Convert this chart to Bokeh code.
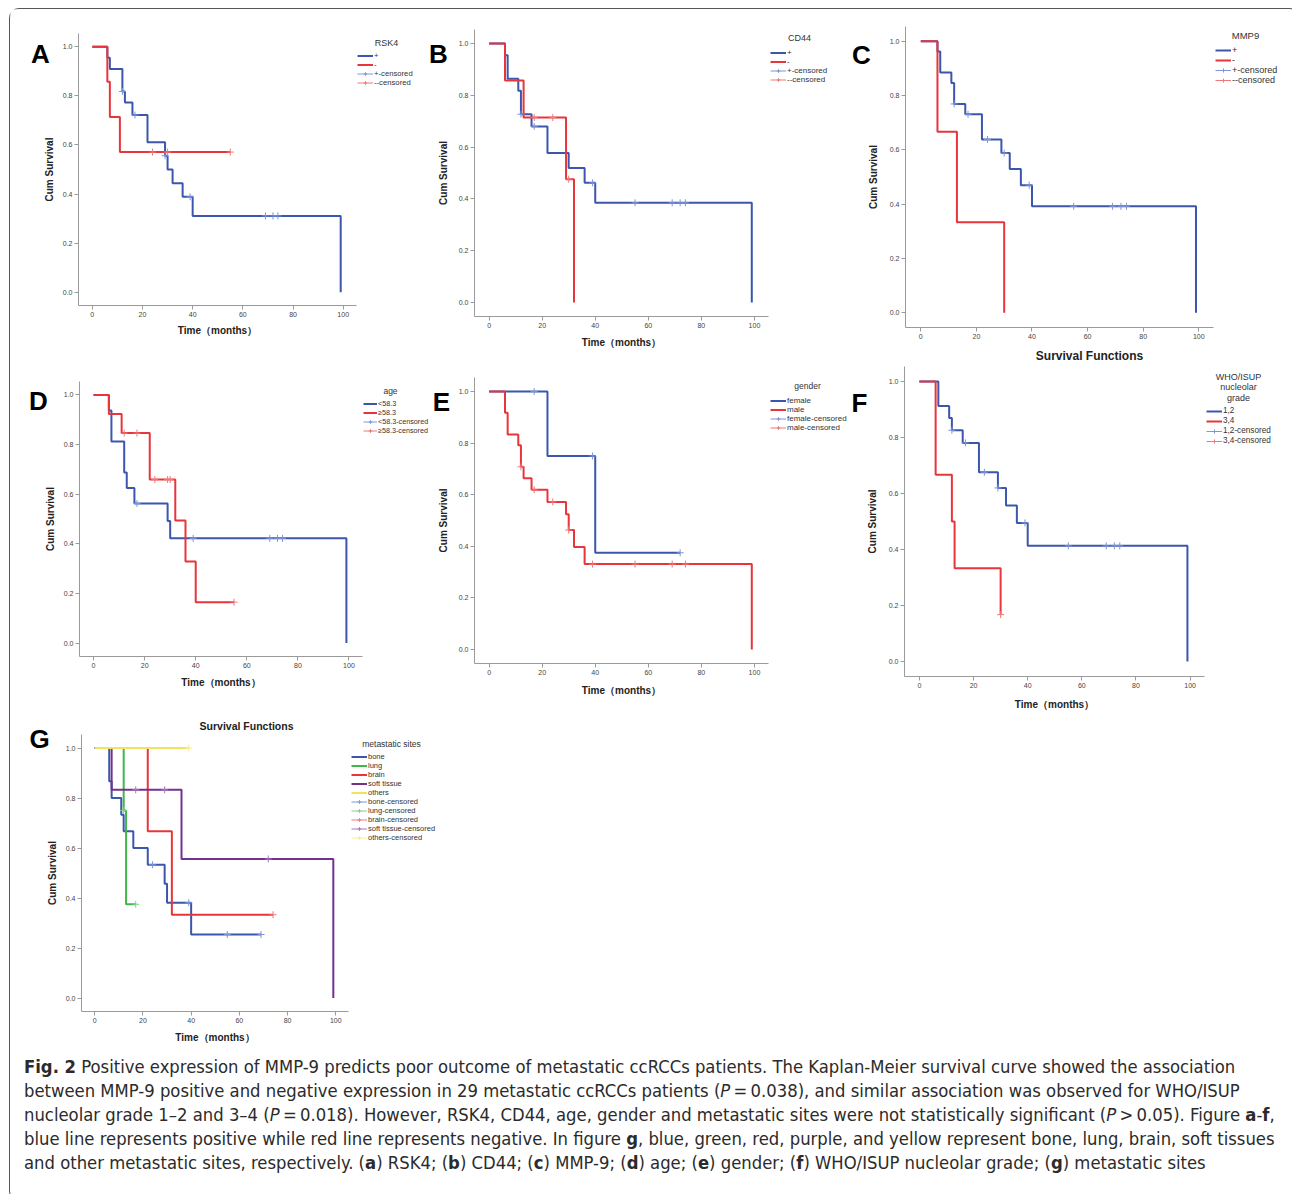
import numpy as np
from bokeh.plotting import figure
from bokeh.models import (Legend, LegendItem, Label, FixedTicker, PrintfTickFormatter,
                          Range1d, Div, ColumnDataSource)
from bokeh.layouts import row, column
from bokeh.embed import file_html
from bokeh.resources import INLINE

FONT = "Liberation Sans"
BLUE, RED = "#3b56ad", "#e8353b"
BLUE_C, RED_C = "#7e95da", "#f07878"
GREEN, PURPLE, YELLOW = "#3fb54a", "#74308f", "#f1e35e"
GREEN_C, PURPLE_C, YELLOW_C = "#7fd087", "#a877bd", "#f6ec95"

# ---------------- data ----------------
x_ticks = [0, 20, 40, 60, 80, 100]
y_ticks = [0.0, 0.2, 0.4, 0.6, 0.8, 1.0]
X_RANGE = (-5.5, 105.3)
Y_RANGE = (-0.054, 1.054)

# A: RSK4
rsk4_pos_t = [0, 6, 7, 12, 13, 16, 22, 29, 30, 32, 36, 40, 99]
rsk4_pos_s = [1.0, 0.955, 0.909, 0.818, 0.773, 0.722, 0.611, 0.556, 0.500, 0.444, 0.389, 0.311, 0.0]
rsk4_pos_ct = [12, 17, 29, 39, 69, 72, 74]
rsk4_pos_cs = [0.818, 0.722, 0.556, 0.389, 0.311, 0.311, 0.311]
rsk4_neg_t = [0, 6, 7, 11, 55]
rsk4_neg_s = [1.0, 0.857, 0.714, 0.571, 0.571]
rsk4_neg_ct = [24, 30, 55]
rsk4_neg_cs = [0.571, 0.571, 0.571]

# B: CD44
cd44_pos_t = [0, 6, 7, 11, 12, 16, 22, 30, 36, 40, 99]
cd44_pos_s = [1.0, 0.955, 0.864, 0.818, 0.727, 0.680, 0.577, 0.519, 0.462, 0.385, 0.0]
cd44_pos_ct = [12, 17, 39, 55, 69, 72, 74]
cd44_pos_cs = [0.727, 0.680, 0.462, 0.385, 0.385, 0.385, 0.385]
cd44_neg_t = [0, 6, 13, 29, 32]
cd44_neg_s = [1.0, 0.857, 0.714, 0.476, 0.0]
cd44_neg_ct = [17, 24, 30]
cd44_neg_cs = [0.714, 0.714, 0.476]

# C: MMP9
mmp9_pos_t = [0, 6, 7, 11, 12, 16, 22, 29, 32, 36, 40, 99]
mmp9_pos_s = [1.0, 0.962, 0.885, 0.846, 0.769, 0.731, 0.638, 0.588, 0.529, 0.470, 0.392, 0.0]
mmp9_pos_ct = [12, 17, 24, 30, 39, 55, 69, 72, 74]
mmp9_pos_cs = [0.769, 0.731, 0.638, 0.588, 0.470, 0.392, 0.392, 0.392, 0.392]
mmp9_neg_t = [0, 6, 13, 30]
mmp9_neg_s = [1.0, 0.667, 0.333, 0.0]
mmp9_neg_ct = []
mmp9_neg_cs = []

# D: age
age_lo_t = [0, 6, 7, 12, 13, 16, 29, 30, 99]
age_lo_s = [1.0, 0.9375, 0.8125, 0.6875, 0.625, 0.5625, 0.492, 0.422, 0.0]
age_lo_ct = [17, 39, 69, 72, 74]
age_lo_cs = [0.5625, 0.422, 0.422, 0.422, 0.422]
age_hi_t = [0, 6, 11, 22, 32, 36, 40, 55]
age_hi_s = [1.0, 0.923, 0.846, 0.659, 0.494, 0.329, 0.165, 0.165]
age_hi_ct = [12, 17, 24, 29, 30, 55]
age_hi_cs = [0.846, 0.846, 0.659, 0.659, 0.659, 0.165]

# E: gender
fem_t = [0, 22, 40, 72]
fem_s = [1.0, 0.75, 0.375, 0.375]
fem_ct = [17, 39, 72]
fem_cs = [1.0, 0.75, 0.375]
male_t = [0, 6, 7, 11, 12, 13, 16, 22, 29, 30, 32, 36, 99]
male_s = [1.0, 0.917, 0.833, 0.792, 0.708, 0.664, 0.619, 0.572, 0.524, 0.463, 0.397, 0.331, 0.0]
male_ct = [12, 17, 24, 30, 39, 55, 69, 74]
male_cs = [0.708, 0.619, 0.572, 0.463, 0.331, 0.331, 0.331, 0.331]

# F: WHO/ISUP nucleolar grade
g12_t = [0, 7, 11, 12, 16, 22, 29, 32, 36, 40, 99]
g12_s = [1.0, 0.913, 0.870, 0.826, 0.781, 0.676, 0.620, 0.557, 0.495, 0.413, 0.0]
g12_ct = [12, 17, 24, 29, 39, 55, 69, 72, 74]
g12_cs = [0.826, 0.781, 0.676, 0.620, 0.495, 0.413, 0.413, 0.413, 0.413]
g34_t = [0, 6, 12, 13, 30]
g34_s = [1.0, 0.667, 0.5, 0.333, 0.167]
g34_ct = [30]
g34_cs = [0.167]

# G: metastatic sites
bone_t = [0, 6, 7, 11, 12, 16, 22, 29, 30, 40, 69]
bone_s = [1.0, 0.867, 0.8, 0.733, 0.667, 0.6, 0.533, 0.457, 0.381, 0.254, 0.254]
bone_ct = [24, 39, 55, 69]
bone_cs = [0.533, 0.381, 0.254, 0.254]
lung_t = [0, 12, 13, 17]
lung_s = [1.0, 0.75, 0.375, 0.375]
lung_ct = [12, 17]
lung_cs = [0.75, 0.375]
brain_t = [0, 22, 32, 74]
brain_s = [1.0, 0.667, 0.333, 0.333]
brain_ct = [74]
brain_cs = [0.333]
soft_t = [0, 7, 36, 99]
soft_s = [1.0, 0.833, 0.556, 0.0]
soft_ct = [17, 29, 72]
soft_cs = [0.833, 0.833, 0.556]
others_t = [0, 39]
others_s = [1.0, 1.0]
others_ct = [39]
others_cs = [1.0]

caption_lines = [
    "<b>Fig. 2</b> Positive expression of MMP-9 predicts poor outcome of metastatic ccRCCs patients. The Kaplan-Meier survival curve showed the association",
    "between MMP-9 positive and negative expression in 29 metastatic ccRCCs patients (<i>P</i>&#8201;=&#8201;0.038), and similar association was observed for WHO/ISUP",
    "nucleolar grade 1&ndash;2 and 3&ndash;4 (<i>P</i>&#8201;=&#8201;0.018). However, RSK4, CD44, age, gender and metastatic sites were not statistically significant (<i>P</i>&#8201;&gt;&#8201;0.05). Figure <b>a</b>-<b>f</b>,",
    "blue line represents positive while red line represents negative. In figure <b>g</b>, blue, green, red, purple, and yellow represent bone, lung, brain, soft tissues",
    "and other metastatic sites, respectively. (<b>a</b>) RSK4; (<b>b</b>) CD44; (<b>c</b>) MMP-9; (<b>d</b>) age; (<b>e</b>) gender; (<b>f</b>) WHO/ISUP nucleolar grade; (<b>g</b>) metastatic sites",
]


def curve(label, t, s, ct, cs, color, ccolor):
    return dict(label=label, t=t, s=s, ct=ct, cs=cs, color=color, ccolor=ccolor)


def km_panel(fig_box, axis_box, curves, letter, letter_xy, title_lines, title_xy,
             leg_left, leg_top, item_h, leg_fs, title_fs, xlabel, xlabel_fs, xstand, ystand,
             extras=(), glyph_w=16):
    # fig_box / axis_box are page-pixel positions (layout only)
    x0, x1, y0, y1 = fig_box
    fl, fr, ft, fb = axis_box
    kx = (fr - fl) / (X_RANGE[1] - X_RANGE[0])
    ky = (fb - ft) / (Y_RANGE[1] - Y_RANGE[0])
    xr = Range1d(X_RANGE[0] - (fl - x0) / kx, X_RANGE[1] + (x1 - fr) / kx)
    yr = Range1d(Y_RANGE[0] - (y1 - fb) / ky, Y_RANGE[1] + (ft - y0) / ky)
    p = figure(width=x1 - x0, height=y1 - y0, x_range=xr, y_range=yr,
               output_backend="svg", toolbar_location=None, title_location=None,
               min_border=0)
    p.outline_line_color = None
    p.xgrid.visible = False
    p.ygrid.visible = False
    p.background_fill_color = "white"
    p.border_fill_color = "white"

    p.xaxis.fixed_location = Y_RANGE[0]
    p.xaxis.bounds = X_RANGE
    p.yaxis.fixed_location = X_RANGE[0]
    p.yaxis.bounds = Y_RANGE
    p.xaxis.ticker = FixedTicker(ticks=x_ticks)
    p.yaxis.ticker = FixedTicker(ticks=y_ticks)
    p.yaxis.formatter = PrintfTickFormatter(format="%.1f")
    for ax in (p.xaxis[0], p.yaxis[0]):
        ax.axis_line_color = "#9a9a9a"
        ax.major_tick_line_color = "#9a9a9a"
        ax.minor_tick_line_color = None
        ax.major_tick_out = 4
        ax.major_tick_in = 0
        ax.major_label_standoff = 2
        ax.major_label_text_font = FONT
        ax.major_label_text_font_size = "7px"
        ax.major_label_text_color = "#444444"
        ax.axis_label_text_font = FONT
        ax.axis_label_text_font_style = "bold"
        ax.axis_label_text_color = "#222222"
    if xlabel:
        p.xaxis.axis_label = xlabel
        p.xaxis.axis_label_text_font_size = xlabel_fs
        p.xaxis.axis_label_standoff = xstand
    p.yaxis.axis_label = "Cum Survival"
    p.yaxis.axis_label_text_font_size = "10px"
    p.yaxis.axis_label_standoff = ystand

    step_items, cens_items = [], []
    for c in curves:
        r = p.step("t", "s", source=ColumnDataSource(dict(t=c["t"], s=c["s"])),
                   mode="after", line_color=c["color"], line_width=2)
        step_items.append(LegendItem(label=c["label"], renderers=[r]))
    nan = np.array([np.nan])
    for c in curves:
        if len(c["ct"]):
            p.scatter("t", "s", source=ColumnDataSource(dict(t=c["ct"], s=c["cs"])),
                      marker="cross", size=7, line_color=c["ccolor"], line_width=1)
        # legend key only ("—+—" symbol); holds no data point
        key = ColumnDataSource(dict(t=nan, s=nan))
        kl = p.line("t", "s", source=key, line_color=c["ccolor"], line_width=1)
        kc = p.scatter("t", "s", source=key, marker="cross", size=7,
                       line_color=c["ccolor"], line_width=1)
        cens_items.append(LegendItem(label=c["label"] + "-censored", renderers=[kl, kc]))

    items = step_items + cens_items
    n = len(items)
    lg = Legend(items=items,
                location=(leg_left - x0, (y1 - leg_top) - n * item_h),
                label_text_font=FONT, label_text_font_size=leg_fs,
                label_text_color="#333333", label_height=item_h, glyph_height=item_h,
                glyph_width=glyph_w, label_standoff=1, spacing=0, padding=0, margin=0,
                border_line_color=None, background_fill_alpha=0)
    p.add_layout(lg)

    def lab(text, x, y, size, bold=False, color="#333333"):
        p.add_layout(Label(x=x - x0, y=y1 - y, x_units="screen", y_units="screen",
                           text=text, text_font=FONT, text_font_size=size,
                           text_font_style="bold" if bold else "normal",
                           text_color=color, text_align="center", text_baseline="middle"))

    tx, tys = title_xy
    for line, ty in zip(title_lines, tys):
        lab(line, tx, ty, title_fs)
    lab(letter, letter_xy[0], letter_xy[1], "26px", bold=True, color="#000000")
    for ex in extras:
        lab(ex[0], ex[1], ex[2], ex[3], bold=True, color="#222222")
    return p


TIME = "Time\uff08months\uff09"

pA = km_panel((10, 420, 9, 363), (78, 356, 33, 305),
              [curve("+", rsk4_pos_t, rsk4_pos_s, rsk4_pos_ct, rsk4_pos_cs, BLUE, BLUE_C),
               curve("-", rsk4_neg_t, rsk4_neg_s, rsk4_neg_ct, rsk4_neg_cs, RED, RED_C)],
              "A", (40, 53), ["RSK4"], (386, [42]), 357, 50.5, 9, "7.7px", "9px",
              TIME, "10px", 5, 5)
pB = km_panel((420, 840, 9, 363), (474, 768, 29, 316),
              [curve("+", cd44_pos_t, cd44_pos_s, cd44_pos_ct, cd44_pos_cs, BLUE, BLUE_C),
               curve("-", cd44_neg_t, cd44_neg_s, cd44_neg_ct, cd44_neg_cs, RED, RED_C)],
              "B", (438, 53), ["CD44"], (799, [37]), 770, 47.5, 9, "8px", "9px",
              TIME, "10px", 6, 7)
pC = km_panel((840, 1289, 9, 363), (905, 1213, 26, 327),
              [curve("+", mmp9_pos_t, mmp9_pos_s, mmp9_pos_ct, mmp9_pos_cs, BLUE, BLUE_C),
               curve("-", mmp9_neg_t, mmp9_neg_s, mmp9_neg_ct, mmp9_neg_cs, RED, RED_C)],
              "C", (861, 54), ["MMP9"], (1245, [35]), 1215, 45, 10, "9px", "9.5px",
              None, "12px", 6, 8,
              extras=[("Survival Functions", 1089, 355, "12px")])
pD = km_panel((10, 432, 363, 713), (79, 362, 381, 656),
              [curve("<58.3", age_lo_t, age_lo_s, age_lo_ct, age_lo_cs, BLUE, BLUE_C),
               curve("\u226558.3", age_hi_t, age_hi_s, age_hi_ct, age_hi_cs, RED, RED_C)],
              "D", (38, 400), ["age"], (390, [390]), 363, 399, 9, "7.2px", "8.5px",
              TIME, "10px", 6, 5, glyph_w=14)
pE = km_panel((432, 850, 363, 713), (474, 768, 377, 663),
              [curve("female", fem_t, fem_s, fem_ct, fem_cs, BLUE, BLUE_C),
               curve("male", male_t, male_s, male_ct, male_cs, RED, RED_C)],
              "E", (441, 401), ["gender"], (807, [385]), 770, 395.5, 9, "8px", "8.5px",
              TIME, "10px", 7, 7)
pF = km_panel((850, 1289, 363, 713), (904, 1204, 366, 676),
              [curve("1,2", g12_t, g12_s, g12_ct, g12_cs, BLUE, BLUE_C),
               curve("3,4", g34_t, g34_s, g34_ct, g34_cs, RED, RED_C)],
              "F", (859, 402), ["WHO/ISUP", "nucleolar", "grade"], (1238, [376, 386.5, 397]),
              1206, 405.7, 10, "8.2px", "9px", TIME, "10px", 8, 8)
pG = km_panel((10, 449, 713, 1050), (81, 348, 734, 1011),
              [curve("bone", bone_t, bone_s, bone_ct, bone_cs, BLUE, BLUE_C),
               curve("lung", lung_t, lung_s, lung_ct, lung_cs, GREEN, GREEN_C),
               curve("brain", brain_t, brain_s, brain_ct, brain_cs, RED, RED_C),
               curve("soft tissue", soft_t, soft_s, soft_ct, soft_cs, PURPLE, PURPLE_C),
               curve("others", others_t, others_s, others_ct, others_cs, YELLOW, YELLOW_C)],
              "G", (39, 738), ["metastatic sites"], (391, [743]), 351, 752, 9, "7.5px", "8.5px",
              TIME, "10px", 6, 5,
              extras=[("Survival Functions", 246, 725, "10.5px")])

cap = Div(
    text=("<div style=\"padding:0 0 0 9px; white-space:nowrap; "
          "font-family:'DejaVu Sans Condensed','DejaVu Sans',sans-serif; "
          "font-size:18.3px; line-height:24px; color:#2b2b2b;\">"
          + "<br>".join(caption_lines) + "</div>"),
    width=1279, height=140)

layout = column(row(pA, pB, pC), row(pD, pE, pF), row(pG), cap,
                styles={"border": "1px solid #555555", "border-radius": "10px",
                        "margin-left": "9px", "margin-top": "8px"})

with open("out.html", "w") as f:
    f.write(file_html(layout, INLINE, title="Fig. 2"))
